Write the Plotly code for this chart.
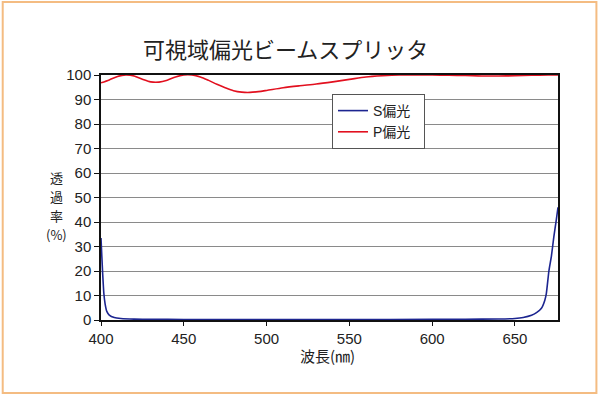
import plotly.graph_objects as go

# P-polarized transmission
p_wl = [400, 405, 410, 415, 420, 425, 430, 435, 440, 445, 450, 455, 460, 465, 470,
        475, 480, 485, 490, 495, 500, 510, 520, 530, 540, 550, 560, 570, 580, 590,
        600, 610, 620, 630, 640, 650, 660, 670, 676]
p_val = [96.8, 98.0, 99.4, 100.0, 99.6, 98.3, 97.2, 97.1, 97.9, 99.2, 100.0, 100.0,
         99.2, 97.8, 96.2, 94.8, 93.6, 93.0, 92.9, 93.2, 93.7, 94.8, 95.6, 96.3,
         97.2, 98.2, 99.2, 99.7, 100.0, 100.0, 100.0, 99.9, 99.8, 99.6, 99.6, 99.7,
         99.9, 100.0, 100.0]

# S-polarized transmission
s_wl = [400, 400.5, 401, 401.7, 402.5, 403.5, 405, 408, 412, 420, 430, 450, 500, 550,
        600, 620, 640, 650, 655, 660, 663, 666, 668, 669, 670.5, 672, 673.5, 675, 676]
s_val = [33.5, 26, 19, 11, 6.5, 3.5, 2.0, 1.0, 0.6, 0.35, 0.3, 0.2, 0.2, 0.2,
         0.25, 0.3, 0.4, 0.6, 1.0, 1.9, 3.0, 4.8, 8, 11, 20, 26, 34, 41, 46]

x_ticks = [400, 450, 500, 550, 600, 650]
y_ticks = [0, 10, 20, 30, 40, 50, 60, 70, 80, 90, 100]
y_label_lines = ["透", "過", "率", "(%)"]
series_names = ["S偏光\u00a0\u00a0", "P偏光\u00a0\u00a0"]

font_main = "Liberation Sans, Arial, Noto Sans CJK JP"
font_jp = "Noto Sans CJK JP"

fig = go.Figure()
fig.add_trace(go.Scatter(x=s_wl, y=s_val, mode="lines", name=series_names[0],
                         line=dict(color="#1C2590", width=1.6, shape="spline", smoothing=0.4)))
fig.add_trace(go.Scatter(x=p_wl, y=p_val, mode="lines", name=series_names[1],
                         line=dict(color="#E2101F", width=1.6, shape="spline", smoothing=0.8)))

L, R, T, B = 100.5, 41.5, 75, 77
W, H = 600, 397
pw, ph = W - L - R, H - T - B

def px(x):
    return (x - L) / pw

def py(y):
    return (H - B - y) / ph

annotations = [
    dict(text="可視域偏光ビームスプリッタ", x=px(285), y=py(48), xref="paper", yref="paper",
         showarrow=False, xanchor="center", yanchor="middle",
         font=dict(family=font_jp, size=22, color="#222222")),
    dict(text="波長(㎚)", x=px(327), y=py(355), xref="paper", yref="paper",
         showarrow=False, xanchor="center", yanchor="middle",
         font=dict(family=font_jp, size=15, color="#222222")),
]
for i, t in enumerate(y_label_lines):
    annotations.append(dict(text=t, x=px(56), y=py(177 + 19 * i), xref="paper", yref="paper",
                            showarrow=False, xanchor="center", yanchor="middle",
                            font=dict(family=font_jp, size=13, color="#222222")))

fig.update_layout(
    width=W, height=H,
    margin=dict(l=L, r=R, t=T, b=B),
    paper_bgcolor="white", plot_bgcolor="white",
    showlegend=True,
    legend=dict(x=px(332), y=py(94), xanchor="left", yanchor="top",
                bgcolor="white", bordercolor="#555555", borderwidth=1,
                font=dict(family=font_main, size=14, color="#222222"),
                itemwidth=30, tracegroupgap=0),
    xaxis=dict(range=[400, 676], tickvals=x_ticks, showgrid=False,
               showline=True, linecolor="#111111", linewidth=1.5, mirror=True,
               ticks="outside", ticklen=4, tickcolor="#111111",
               tickfont=dict(family=font_main, size=15, color="#222222"), zeroline=False),
    yaxis=dict(range=[0, 100], tickvals=y_ticks, showgrid=True, gridcolor="#8a8a8a", gridwidth=1,
               showline=True, linecolor="#111111", linewidth=1.5, mirror=True,
               ticks="outside", ticklen=5, tickcolor="#111111",
               tickfont=dict(family=font_main, size=15, color="#222222"), zeroline=False),
    annotations=annotations,
    shapes=[
        dict(type="rect", xref="paper", yref="paper",
             x0=px(2), x1=px(597), y0=py(393), y1=py(2),
             line=dict(color="#F4BC82", width=2), layer="below"),
    ],
)

fig.write_html("out.html", config={"displayModeBar": False},
               post_script="document.body.style.margin='0px';")
